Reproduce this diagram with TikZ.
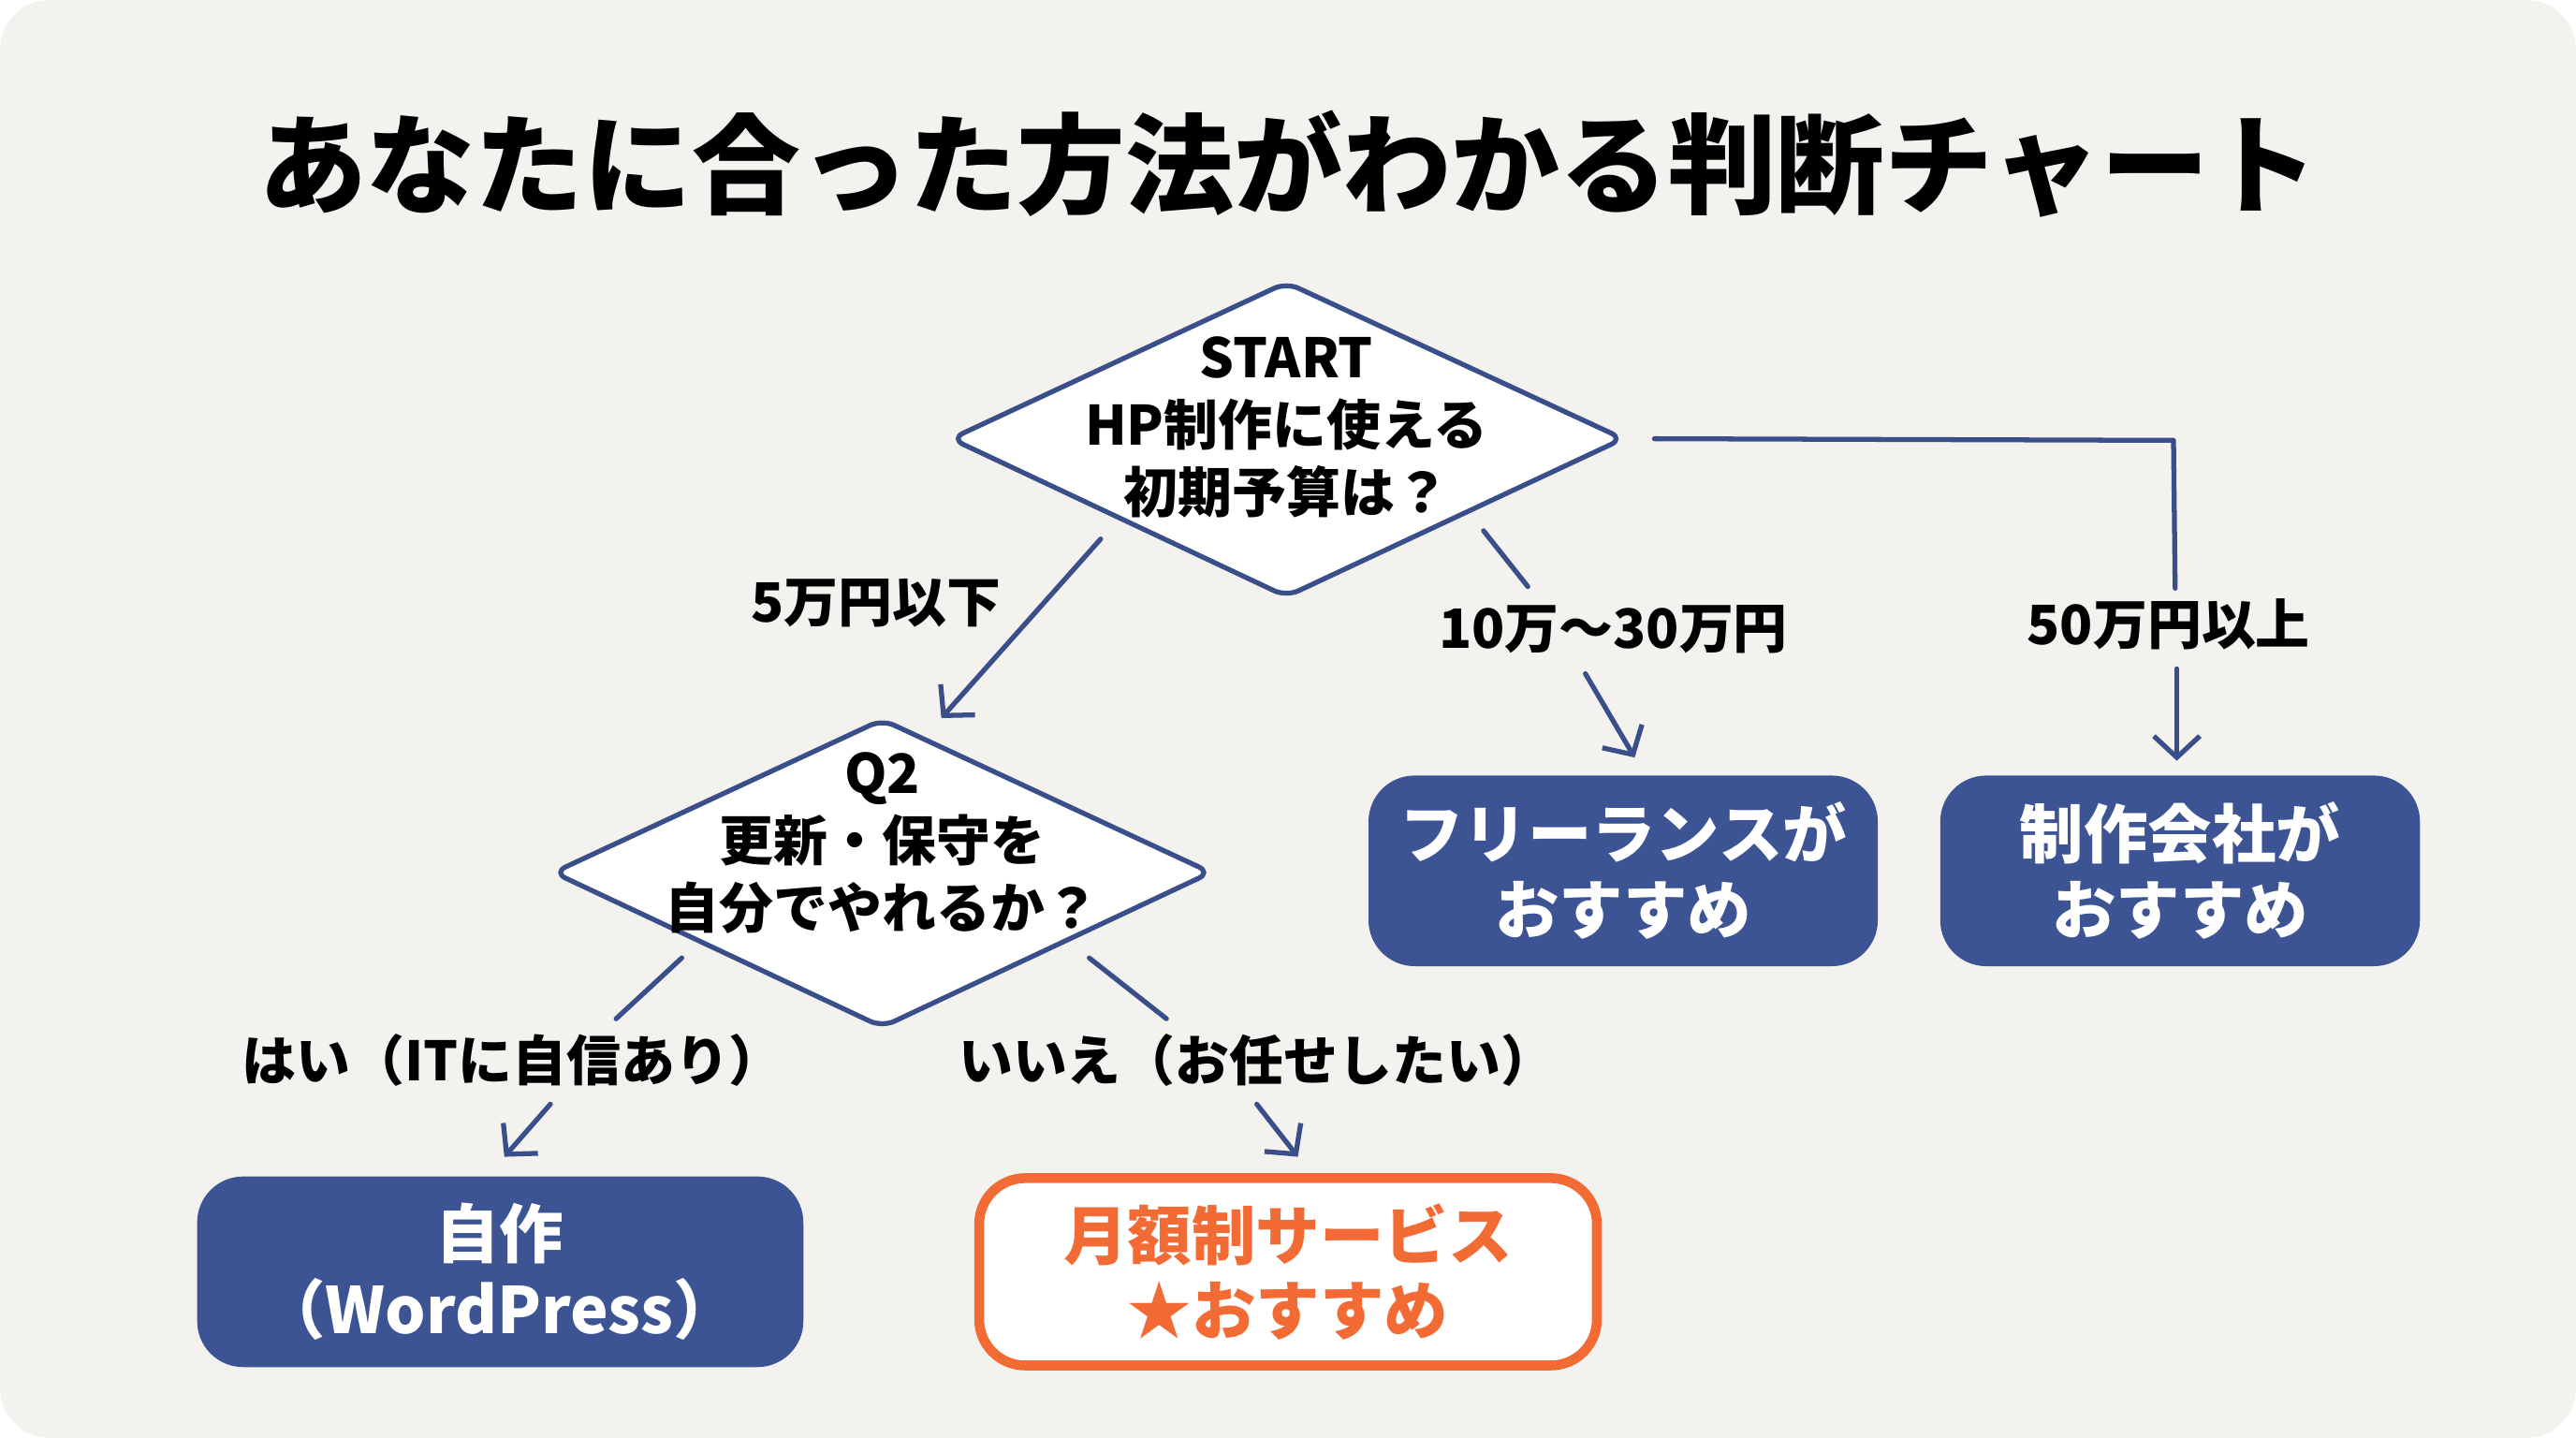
\documentclass[tikz,border=0pt]{standalone}
\usepackage{fontspec}
\setmainfont{Noto Sans CJK JP}
\usetikzlibrary{shapes.geometric,arrows.meta}
\definecolor{bg}{HTML}{F3F2EF}
\definecolor{navy}{HTML}{3D5494}
\definecolor{lnc}{HTML}{3A4F8A}
\definecolor{orng}{HTML}{F26B35}
\begin{document}
\begin{tikzpicture}[x=1pt,y=1pt,
  box/.style={align=center,text=white,font=\fontsize{39}{46}\selectfont\bfseries},
  dtxt/.style={align=center,font=\fontsize{33}{41}\selectfont\bfseries},
  lab/.style={font=\fontsize{33}{38}\selectfont\bfseries,inner sep=2pt},
  con/.style={draw=lnc,line width=3pt,line cap=round},
  arr/.style={con,-{Straight Barb[length=13pt,width=28pt,line width=3pt]}}]
\useasboundingbox (0,0) rectangle (1568,-875);
\fill[bg,rounded corners=30pt] (0,0) rectangle (1568,-875);
\node[font=\fontsize{66}{74}\selectfont\bfseries] (title) at (784,-100) {あなたに合った方法がわかる判断チャート};
% diamonds
\draw[lnc,line width=3pt,fill=white,line join=round,rounded corners=8pt] (579,-267) -- (783,-172) -- (988,-267) -- (783,-363) -- cycle;
\node[dtxt] (d1) at (783,-260) {START\\HP制作に使える\\初期予算は？};
\draw[lnc,line width=3pt,fill=white,line join=round,rounded corners=8pt] (337,-531) -- (537,-438) -- (737,-531) -- (537,-625) -- cycle;
\node[dtxt] (d2) at (537,-513) {Q2\\更新・保守を\\自分でやれるか？};
% boxes
\fill[navy,rounded corners=28pt] (833,-472) rectangle (1143,-588);
\node[box] (b1) at (988,-530) {フリーランスが\\おすすめ};
\fill[navy,rounded corners=28pt] (1181,-472) rectangle (1473,-588);
\node[box] (b2) at (1327,-530) {制作会社が\\おすすめ};
\fill[navy,rounded corners=28pt] (120,-716) rectangle (489,-832);
\node[box] (b3) at (304,-774) {自作\\（WordPress）};
\draw[orng,fill=white,line width=6pt,rounded corners=28pt] (596,-717) rectangle (972,-831);
\node[box,text=orng] (b4) at (784,-774) {月額制サービス\\★おすすめ};
% labels
\node[lab] (l1) at (533,-367) {5万円以下};
\node[lab] (l2) at (982,-383) {10万〜30万円};
\node[lab] (l3) at (1320,-380) {50万円以上};
\node[lab] (l4) at (312,-645) {はい（ITに自信あり）};
\node[lab] (l5) at (765,-645) {いいえ（お任せしたい）};
% coordinates
\coordinate (a1s) at (670,-328); \coordinate (a1e) at (573,-437);
\coordinate (a2s) at (903,-323); \coordinate (a2m) at (930,-357);
\coordinate (a2n) at (965,-410); \coordinate (a2e) at (995,-461);
\coordinate (a3s) at (1007,-267); \coordinate (a3c) at (1323,-268); \coordinate (a3m) at (1324,-358);
\coordinate (a3n) at (1325,-407); \coordinate (a3e) at (1325,-463);
\coordinate (a4s) at (415,-583); \coordinate (a4m) at (375,-620);
\coordinate (a4n) at (335,-672); \coordinate (a4e) at (307,-704);
\coordinate (a5s) at (663,-583); \coordinate (a5m) at (710,-620);
\coordinate (a5n) at (765,-672); \coordinate (a5e) at (790,-704);
\draw[arr] (a1s) -- (a1e);
\draw[con] (a2s) -- (a2m); \draw[arr] (a2n) -- (a2e);
\draw[con,line join=round] (a3s) -- (a3c) -- (a3m); \draw[arr] (a3n) -- (a3e);
\draw[con] (a4s) -- (a4m); \draw[arr] (a4n) -- (a4e);
\draw[con] (a5s) -- (a5m); \draw[arr] (a5n) -- (a5e);
\end{tikzpicture}
\end{document}
